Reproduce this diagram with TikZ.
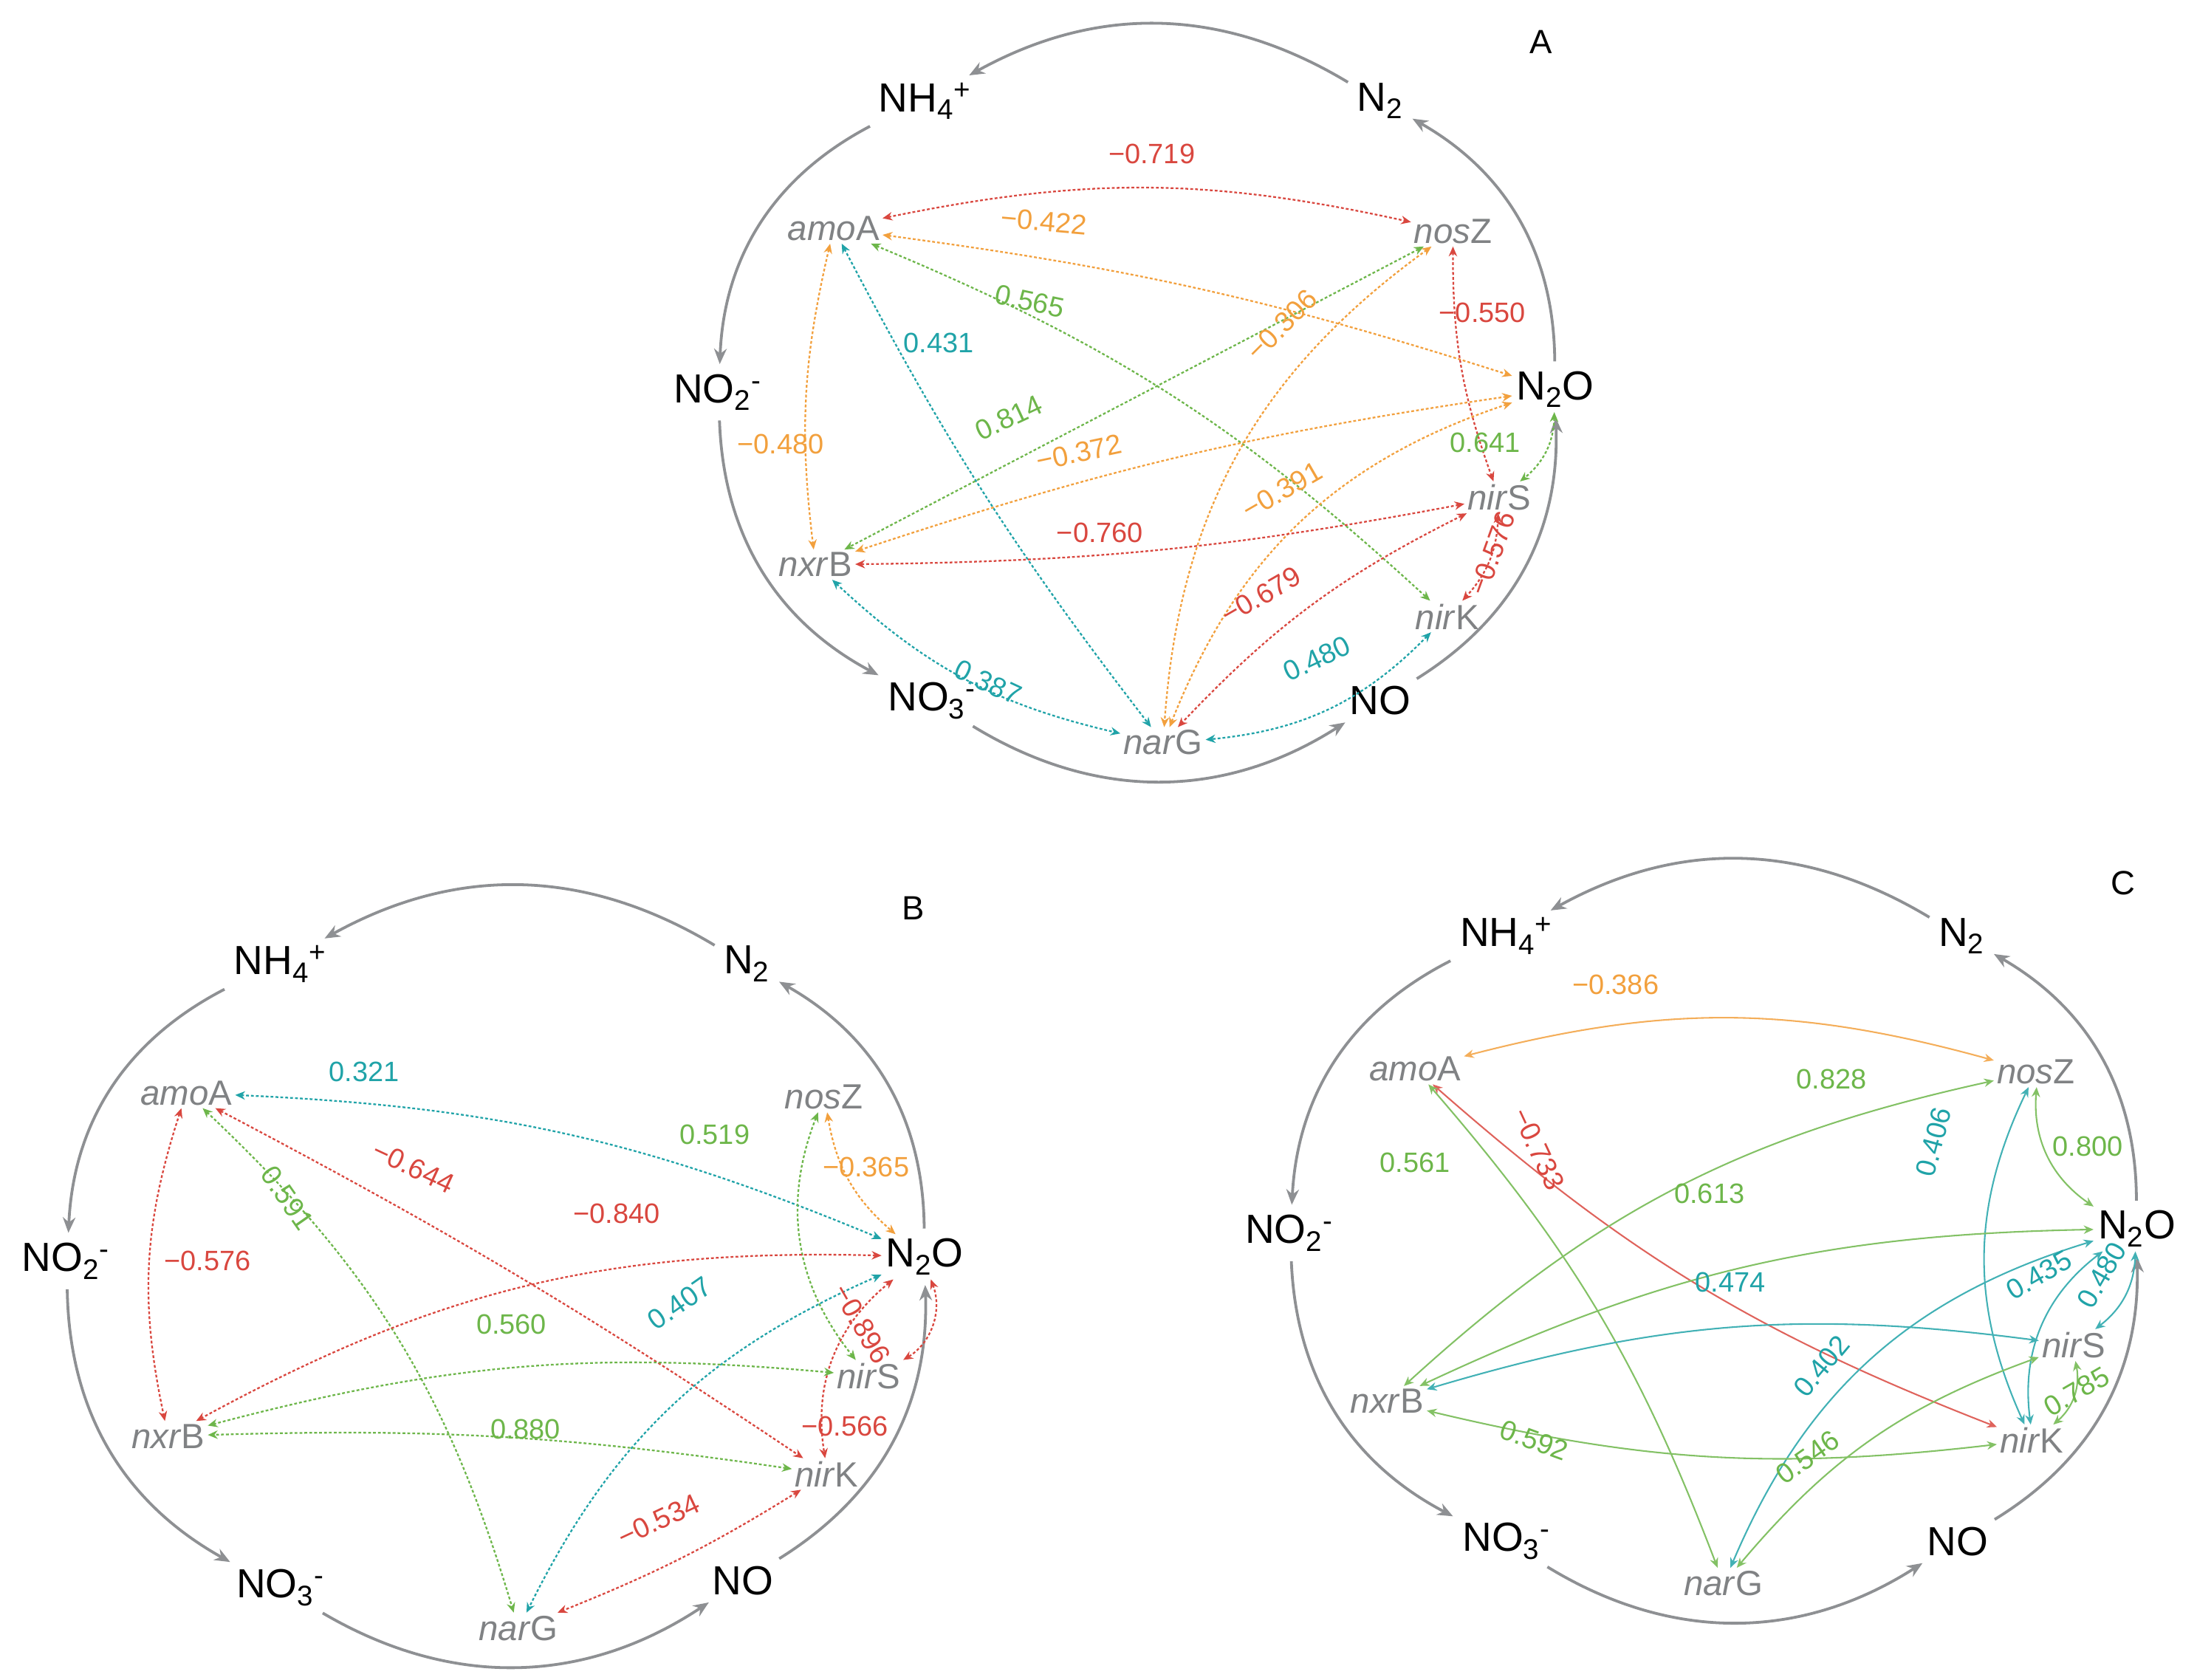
\documentclass[tikz,border=0pt]{standalone}
\usepackage{fontspec}
\setmainfont{Liberation Sans}
\usetikzlibrary{arrows.meta}
\definecolor{cR}{HTML}{D9473F}
\definecolor{cO}{HTML}{F2A03D}
\definecolor{cG}{HTML}{6DB64A}
\definecolor{cT}{HTML}{20A3A8}
\definecolor{cg}{HTML}{8E9093}
\newcommand\nhf{NH\textsubscript{4}\textsuperscript{+}}
\newcommand\notw{NO\textsubscript{2}\textsuperscript{-}}
\newcommand\noth{NO\textsubscript{3}\textsuperscript{-}}
\newcommand\ntw{N\textsubscript{2}}
\newcommand\ntwo{N\textsubscript{2}O}
\begin{document}
\begin{tikzpicture}[x=1pt,y=1pt,
 chem/.style={font=\fontsize{29}{30}\selectfont,inner sep=3pt},
 gene/.style={font=\fontsize{25}{26}\selectfont,text=cg!90!black,inner sep=2pt},
 num/.style={font=\fontsize{20}{21}\selectfont,inner sep=1pt},
 lett/.style={font=\fontsize{24}{25}\selectfont},
 cyc/.style={draw=cg,line width=2pt,-{Stealth[length=11pt,width=9pt]},shorten >=4pt,shorten <=4pt},
 ea/.style={line width=1.2pt,dash pattern=on 2pt off 1.5pt,{Stealth[length=7pt,width=6pt]}-{Stealth[length=7pt,width=6pt]}},
 ec/.style={line width=1.1pt,{Stealth[length=7pt,width=6pt]}-{Stealth[length=7pt,width=6pt]}}]
\useasboundingbox (0,0) rectangle (1568,-1199);
% ================= A
\node[lett] (lA) at (1100,-30) {A};
\node[chem] (aNH) at (660,-72) {\nhf};
\node[chem] (aN2) at (985,-72) {\ntw};
\node[chem] (aNO2) at (512,-280) {\notw};
\node[chem] (aN2O) at (1110,-278) {\ntwo};
\node[chem] (aNO3) at (665,-500) {\noth};
\node[chem] (aNO) at (985,-500) {NO};
\node[gene] (aamo) at (595,-163) {\textit{amo}A};
\node[gene] (anos) at (1037,-165) {\textit{nos}Z};
\node[gene] (anxr) at (582,-403) {\textit{nxr}B};
\node[gene] (anirS) at (1070,-355) {\textit{nir}S};
\node[gene] (anirK) at (1033,-440) {\textit{nir}K};
\node[gene] (anar) at (830,-530) {\textit{nar}G};
\draw[cyc] (aN2) to[bend right=30] (aNH);
\draw[cyc] (aNH) to[bend right=30] (aNO2);
\draw[cyc] (aNO2) to[bend right=30] (aNO3);
\draw[cyc] (aNO3) to[bend right=32] (aNO);
\draw[cyc] (aNO) to[bend right=30] (aN2O);
\draw[cyc] (aN2O) to[bend right=30] (aN2);
\draw[ea,cR] (aamo) to[bend left=12] (anos);
\draw[ea,cO] (aamo) to[bend left=5] (aN2O);
\draw[ea,cG] (aamo) to[bend left=10] (anirK);
\draw[ea,cT] (aamo) to[bend right=5] (anar);
\draw[ea,cO] (aamo) to[bend right=10] (anxr);
\draw[ea,cG] (anos) -- (anxr);
\draw[ea,cO] (anos) to[bend right=25] (anar);
\draw[ea,cR] (anos) to[bend right=10] (anirS);
\draw[ea,cO] (aN2O) to[bend right=5] (anxr);
\draw[ea,cO] (aN2O) to[bend right=25] (anar);
\draw[ea,cG] (aN2O) to[bend left=25] (anirS);
\draw[ea,cR] (anirS) to[bend left=5] (anxr);
\draw[ea,cR] (anirS) to[bend right=10] (anar);
\draw[ea,cR] (anirS) to[bend left=20] (anirK);
\draw[ea,cT] (anirK) to[bend left=20] (anar);
\draw[ea,cT] (anxr) to[bend right=15] (anar);
\node[num,cR] (a1) at (822,-110) {−0.719};
\node[num,cO,rotate=-5] (a2) at (745,-158) {−0.422};
\node[num,cG,rotate=-12] (a3) at (735,-215) {0.565};
\node[num,cT] (a4) at (670,-245) {0.431};
\node[num,cO] (a5) at (557,-317) {−0.480};
\node[num,cG,rotate=25] (a6) at (720,-298) {0.814};
\node[num,cO,rotate=45] (a7) at (915,-232) {−0.306};
\node[num,cR] (a8) at (1058,-223) {−0.550};
\node[num,cO,rotate=12] (a9) at (770,-323) {−0.372};
\node[num,cO,rotate=30] (a10) at (915,-350) {−0.391};
\node[num,cG] (a11) at (1060,-316) {0.641};
\node[num,cR] (a12) at (785,-380) {−0.760};
\node[num,cR,rotate=30] (a13) at (900,-425) {−0.679};
\node[num,cR,rotate=70] (a14) at (1065,-395) {−0.576};
\node[num,cT,rotate=25] (a15) at (940,-470) {0.480};
\node[num,cT,rotate=-25] (a16) at (705,-487) {0.387};
% ================= B
\node[lett] (lB) at (652,-648) {B};
\node[chem] (bNH) at (200,-688) {\nhf};
\node[chem] (bN2) at (533,-688) {\ntw};
\node[chem] (bNO2) at (47,-900) {\notw};
\node[chem] (bN2O) at (660,-897) {\ntwo};
\node[chem] (bNO3) at (200,-1133) {\noth};
\node[chem] (bNO) at (530,-1128) {NO};
\node[gene] (bamo) at (133,-780) {\textit{amo}A};
\node[gene] (bnos) at (588,-783) {\textit{nos}Z};
\node[gene] (bnxr) at (120,-1025) {\textit{nxr}B};
\node[gene] (bnirS) at (620,-982) {\textit{nir}S};
\node[gene] (bnirK) at (590,-1052) {\textit{nir}K};
\node[gene] (bnar) at (370,-1162) {\textit{nar}G};
\draw[cyc] (bN2) to[bend right=30] (bNH);
\draw[cyc] (bNH) to[bend right=30] (bNO2);
\draw[cyc] (bNO2) to[bend right=30] (bNO3);
\draw[cyc] (bNO3) to[bend right=32] (bNO);
\draw[cyc] (bNO) to[bend right=30] (bN2O);
\draw[cyc] (bN2O) to[bend right=30] (bN2);
\draw[ea,cT] (bamo) to[bend left=10] (bN2O);
\draw[ea,cR] (bamo) to[bend left=3] (bnirK);
\draw[ea,cG] (bamo) to[bend left=15] (bnar);
\draw[ea,cR] (bamo) to[bend right=15] (bnxr);
\draw[ea,cO] (bnos) to[bend right=20] (bN2O);
\draw[ea,cG] (bnos) to[bend right=30] (bnirS);
\draw[ea,cR] (bN2O) to[bend right=15] (bnxr);
\draw[ea,cT] (bN2O) to[bend right=20] (bnar);
\draw[ea,cR] (bN2O) to[bend left=40] (bnirS);
\draw[ea,cR] (bN2O) to[bend right=30] (bnirK);
\draw[ea,cG] (bnirS) to[bend right=10] (bnxr);
\draw[ea,cG] (bnirK) to[bend right=5] (bnxr);
\draw[ea,cR] (bnirK) to[bend left=5] (bnar);
\node[num,cT] (b1) at (260,-765) {0.321};
\node[num,cR,rotate=-25] (b2) at (295,-833) {−0.644};
\node[num,cG,rotate=-55] (b3) at (205,-855) {0.591};
\node[num,cR] (b4) at (148,-900) {−0.576};
\node[num,cO] (b5) at (618,-833) {−0.365};
\node[num,cG] (b6) at (510,-810) {0.519};
\node[num,cR] (b7) at (440,-866) {−0.840};
\node[num,cT,rotate=35] (b8) at (485,-930) {0.407};
\node[num,cR,rotate=-60] (b9) at (615,-945) {−0.896};
\node[num,cR] (b10) at (603,-1018) {−0.566};
\node[num,cG] (b11) at (365,-945) {0.560};
\node[num,cG] (b12) at (375,-1020) {0.880};
\node[num,cR,rotate=25] (b13) at (470,-1085) {−0.534};
% ================= C
\node[lett] (lC) at (1515,-630) {C};
\node[chem] (cNH) at (1075,-668) {\nhf};
\node[chem] (cN2) at (1400,-668) {\ntw};
\node[chem] (cNO2) at (920,-880) {\notw};
\node[chem] (cN2O) at (1525,-877) {\ntwo};
\node[chem] (cNO3) at (1075,-1100) {\noth};
\node[chem] (cNO) at (1397,-1100) {NO};
\node[gene] (camo) at (1010,-763) {\textit{amo}A};
\node[gene] (cnos) at (1453,-765) {\textit{nos}Z};
\node[gene] (cnxr) at (990,-1000) {\textit{nxr}B};
\node[gene] (cnirS) at (1480,-960) {\textit{nir}S};
\node[gene] (cnirK) at (1450,-1028) {\textit{nir}K};
\node[gene] (cnar) at (1230,-1130) {\textit{nar}G};
\draw[cyc] (cN2) to[bend right=30] (cNH);
\draw[cyc] (cNH) to[bend right=30] (cNO2);
\draw[cyc] (cNO2) to[bend right=30] (cNO3);
\draw[cyc] (cNO3) to[bend right=32] (cNO);
\draw[cyc] (cNO) to[bend right=30] (cN2O);
\draw[cyc] (cN2O) to[bend right=30] (cN2);
\draw[ec,cO!85] (camo) to[bend left=15] (cnos);
\draw[ec,cR!85] (camo) to[bend right=10] (cnirK);
\draw[ec,cG!85] (camo) to[bend left=10] (cnar);
\draw[ec,cG!85] (cnos) to[bend right=15] (cnxr);
\draw[ec,cG!85] (cnos) to[bend right=30] (cN2O);
\draw[ec,cT!85] (cnos) to[bend right=25] (cnirK);
\draw[ec,cG!85] (cN2O) to[bend right=12] (cnxr);
\draw[ec,cT!85] (cN2O) to[bend right=25] (cnar);
\draw[ec,cT!85] (cN2O) to[bend left=25] (cnirS);
\draw[ec,cT!85] (cN2O) to[bend right=30] (cnirK);
\draw[ec,cT!85] (cnirS) to[bend right=12] (cnxr);
\draw[ec,cG!85] (cnirS) to[bend right=15] (cnar);
\draw[ec,cG!85] (cnirS) to[bend left=30] (cnirK);
\draw[ec,cG!85] (cnirK) to[bend left=10] (cnxr);
\node[num,cO] (c1) at (1153,-703) {−0.386};
\node[num,cR,rotate=-65] (c2) at (1098,-820) {−0.733};
\node[num,cG] (c3) at (1010,-830) {0.561};
\node[num,cG] (c4) at (1307,-770) {0.828};
\node[num,cG] (c5) at (1490,-818) {0.800};
\node[num,cT,rotate=75] (c6) at (1380,-815) {0.406};
\node[num,cG] (c7) at (1220,-852) {0.613};
\node[num,cT,rotate=50] (c8) at (1300,-975) {0.402};
\node[num,cT,rotate=60] (c9) at (1500,-910) {0.480};
\node[num,cT,rotate=30] (c10) at (1455,-910) {0.435};
\node[num,cT] (c11) at (1235,-915) {0.474};
\node[num,cG,rotate=35] (c12) at (1290,-1040) {0.546};
\node[num,cG,rotate=30] (c13) at (1482,-993) {0.785};
\node[num,cG,rotate=-20] (c14) at (1095,-1028) {0.592};
\end{tikzpicture}
\end{document}
